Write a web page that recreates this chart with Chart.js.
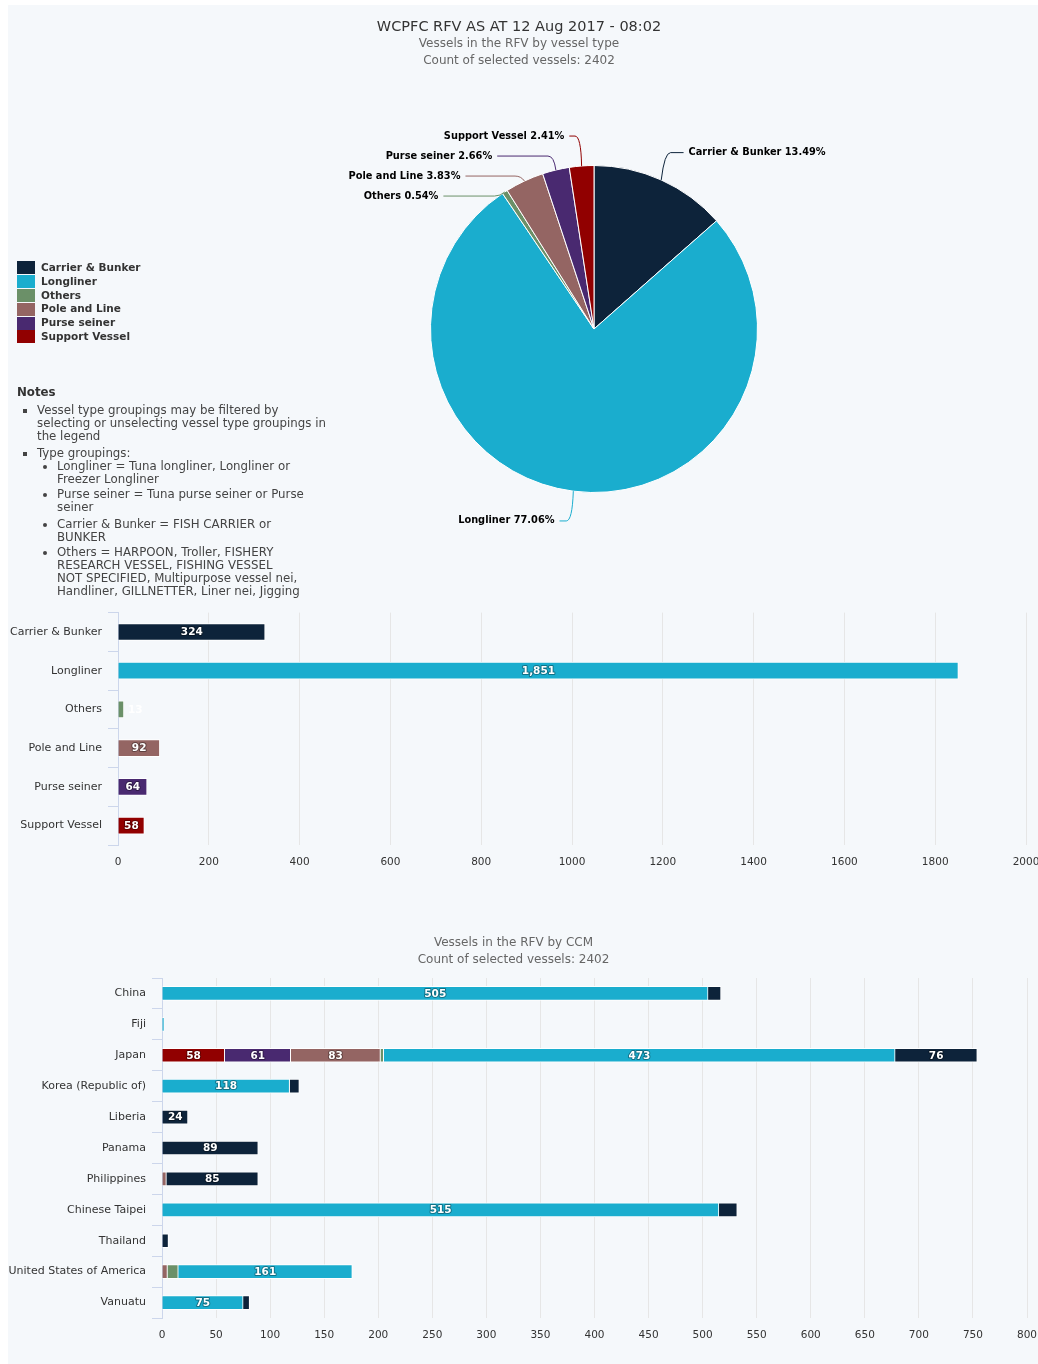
<!DOCTYPE html>
<html>
<head>
<meta charset="utf-8">
<title>WCPFC RFV</title>
<script src="https://cdn.jsdelivr.net/npm/chart.js@4.4.0/dist/chart.umd.min.js"></script>
<style>
  body { margin: 0; background: #ffffff; overflow: hidden; }
  #page { position: relative; width: 1038px; height: 1364px; font-family: "DejaVu Sans", sans-serif; }
  #panel { position: absolute; left: 8px; top: 5px; right: 0; bottom: 0; background: #f5f8fb; }
  canvas { position: absolute; left: 0; }
  #pieChart { top: 0; }
  #typeChart { top: 600px; }
  #ccmChart { top: 900px; }
  #pieLegend { position: absolute; left: 17px; top: 261px; font: bold 10.5px "DejaVu Sans", sans-serif; color: #333; }
  .legend-item { height: 13.8px; line-height: 13.8px; display: flex; align-items: center; white-space: nowrap; }
  .swatch { display: inline-block; width: 18px; height: 13px; margin-right: 6px; }
  #notes { position: absolute; left: 17px; top: 385.5px; width: 330px; font: 11.8px/13px "DejaVu Sans", sans-serif; color: #444; white-space: nowrap; }
  #notes .notes-title { font-weight: bold; color: #333; }
  #notes ul { margin: 0; padding-left: 20px; }
  #notes ul.lvl1 { list-style: square; margin-top: 5px; }
  #notes ul.lvl2 { list-style: disc; }
  #notes ul.lvl1 > li { margin-bottom: 4px; }
  #notes ul.lvl2 > li { margin-top: 2px; }
  #notes ul.lvl2 > li:first-child { margin-top: 0; }
  #notes ul.lvl2 > li.wide { margin-top: 4px; }
</style>
</head>
<body>
<div id="page">
  <div id="panel"></div>
  <canvas id="pieChart" width="1038" height="600"></canvas>
  <div id="pieLegend"></div>
  <div id="notes">
    <div class="notes-title">Notes</div>
    <ul class="lvl1">
      <li>Vessel type groupings may be filtered by<br>selecting or unselecting vessel type groupings in<br>the legend</li>
      <li>Type groupings:
        <ul class="lvl2">
          <li>Longliner = Tuna longliner, Longliner or<br>Freezer Longliner</li>
          <li>Purse seiner = Tuna purse seiner or Purse<br>seiner</li>
          <li class="wide">Carrier &amp; Bunker = FISH CARRIER or<br>BUNKER</li>
          <li>Others = HARPOON, Troller, FISHERY<br>RESEARCH VESSEL, FISHING VESSEL<br>NOT SPECIFIED, Multipurpose vessel nei,<br>Handliner, GILLNETTER, Liner nei, Jigging</li>
        </ul>
      </li>
    </ul>
  </div>
  <canvas id="typeChart" width="1038" height="275"></canvas>
  <canvas id="ccmChart" width="1038" height="464"></canvas>
</div>

<script>
// vessel types (pie + first bar chart)
const typeNames = ['Carrier & Bunker', 'Longliner', 'Others', 'Pole and Line', 'Purse seiner', 'Support Vessel'];
const typeCounts = [324, 1851, 13, 92, 64, 58];
const typeColors = ['#0d233a', '#1aadce', '#6b9068', '#946563', '#492970', '#910000'];

// CCM stacked chart
const ccmNames = ['China', 'Fiji', 'Japan', 'Korea (Republic of)', 'Liberia', 'Panama', 'Philippines',
  'Chinese Taipei', 'Thailand', 'United States of America', 'Vanuatu'];
const ccmCarrier     = [12, null, 76, 9, 24, 89, 85, 17, 6, null, 6];
const ccmLongliner   = [505, 2, 473, 118, null, null, null, 515, null, 161, 75];
const ccmOthers      = [null, null, 3, null, null, null, null, null, null, 10, null];
const ccmPoleLine    = [null, null, 83, null, null, null, 4, null, null, 5, null];
const ccmPurseSeiner = [null, null, 61, null, null, null, null, null, null, null, null];
const ccmSupport     = [null, null, 58, null, null, null, null, null, null, null, null];

// axis ranges
const typeAxisMax = 2000;
const typeAxisStep = 200;
const ccmAxisMax = 800;
const ccmAxisStep = 50;

const chartTitle = 'WCPFC RFV AS AT 12 Aug 2017 - 08:02';
const pieSubtitle = 'Vessels in the RFV by vessel type';
const ccmSubtitle = 'Vessels in the RFV by CCM';
const totalVessels = typeCounts.reduce((a, b) => a + b, 0);
const countLine = 'Count of selected vessels: ' + totalVessels;

Chart.defaults.font.family = '"DejaVu Sans", sans-serif';

// html legend for the pie
const legendBox = document.getElementById('pieLegend');
typeNames.forEach((name, i) => {
    const item = document.createElement('div');
    item.className = 'legend-item';
    const sw = document.createElement('span');
    sw.className = 'swatch';
    sw.style.background = typeColors[i];
    item.appendChild(sw);
    item.appendChild(document.createTextNode(name));
    legendBox.appendChild(item);
});

// move the pie right of the legend/notes column, title stays centred
const pieShiftX = 75;
const pieShift = {
    id: 'pieShift',
    afterLayout(chart) {
        chart.chartArea.left += pieShiftX;
        chart.chartArea.right += pieShiftX;
    }
};

// highcharts style labels outside the slices, with connectors
const pieOutsideLabels = {
    id: 'pieOutsideLabels',
    afterDatasetsDraw(chart) {
        const ds = chart.data.datasets[0];
        const meta = chart.getDatasetMeta(0);
        const total = ds.data.reduce((a, b) => a + b, 0);
        const distance = 30;
        const gap = 20;

        const items = meta.data.map((arc, i) => {
            const p = arc.getProps(['x', 'y', 'startAngle', 'endAngle', 'outerRadius'], true);
            const mid = (p.startAngle + p.endAngle) / 2;
            const cos = Math.cos(mid);
            const sin = Math.sin(mid);
            return {
                cx: p.x, cy: p.y, r: p.outerRadius, cos: cos,
                side: cos < 0 ? -1 : 1,
                edgeX: p.x + cos * p.outerRadius,
                edgeY: p.y + sin * p.outerRadius,
                y: p.y + sin * (p.outerRadius + distance),
                color: ds.backgroundColor[i],
                text: chart.data.labels[i] + ' ' + (ds.data[i] / total * 100).toFixed(2) + '%'
            };
        });

        [-1, 1].forEach(side => {
            const list = items.filter(it => it.side === side).sort((a, b) => a.y - b.y);
            for (let k = 1; k < list.length; k++) {
                if (list[k].y - list[k - 1].y < gap) list[k].y = list[k - 1].y + gap;
            }
        });

        const ctx = chart.ctx;
        ctx.save();
        ctx.font = 'bold 9.8px "DejaVu Sans"';
        ctx.textBaseline = 'middle';
        ctx.lineWidth = 1;
        items.forEach(it => {
            const R = it.r + distance;
            const dy = it.y - it.cy;
            const lx = Math.abs(dy) < R ? it.cx + it.side * Math.sqrt(R * R - dy * dy) : it.cx + it.cos * R;
            const bx = it.edgeX + it.cos * 8;
            const endX = it.side < 0 ? Math.min(lx - 10, bx - 6) : Math.max(lx + 10, bx + 6);

            ctx.strokeStyle = it.color;
            ctx.beginPath();
            ctx.moveTo(it.edgeX, it.edgeY);
            ctx.quadraticCurveTo(bx, it.y, bx + it.side * 6, it.y);
            ctx.lineTo(endX, it.y);
            ctx.stroke();

            ctx.fillStyle = '#000';
            ctx.textAlign = it.side < 0 ? 'right' : 'left';
            ctx.fillText(it.text, endX + it.side * 5, it.y);
        });
        ctx.restore();
    }
};

// values written inside the bars
const barValueLabels = {
    id: 'barValueLabels',
    afterDatasetsDraw(chart, args, opts) {
        const ctx = chart.ctx;
        ctx.save();
        ctx.font = 'bold 10.5px "DejaVu Sans"';
        ctx.textAlign = 'center';
        ctx.textBaseline = 'middle';
        ctx.lineJoin = 'round';
        chart.data.datasets.forEach((ds, di) => {
            const meta = chart.getDatasetMeta(di);
            meta.data.forEach((bar, i) => {
                const v = ds.data[i];
                if (!v) return;
                const p = bar.getProps(['x', 'y', 'base'], true);
                const text = v.toLocaleString('en-US');
                const w = ctx.measureText(text).width;
                const len = Math.abs(p.x - p.base);
                if (len >= w + 4) {
                    const x = (p.x + p.base) / 2;
                    ctx.lineWidth = 2;
                    ctx.strokeStyle = 'rgba(0,0,0,0.35)';
                    ctx.strokeText(text, x, p.y + 0.5);
                    ctx.fillStyle = '#ffffff';
                    ctx.fillText(text, x, p.y + 0.5);
                } else if (!opts.hideSmall) {
                    ctx.fillStyle = '#ffffff';
                    ctx.fillText(text, p.x + 4 + w / 2, p.y + 0.5);
                }
            });
        });
        ctx.restore();
    }
};

// value axis: fixed height, and let the last tick label run to the edge
function fitValueAxis(scale) {
    scale.height = 30;
    scale.paddingLeft = 0;
    scale.paddingRight = 0;
}

new Chart(document.getElementById('pieChart'), {
    type: 'pie',
    data: {
        labels: typeNames,
        datasets: [{
            data: typeCounts,
            backgroundColor: typeColors,
            borderColor: '#ffffff',
            borderWidth: 1
        }]
    },
    options: {
        responsive: false,
        animation: false,
        layout: { padding: { top: 0, right: 0, bottom: 107, left: 0 } },
        plugins: {
            legend: { display: false },
            tooltip: { enabled: false },
            title: {
                display: true,
                text: chartTitle,
                color: '#333',
                font: { size: 14.5, weight: 'normal' },
                padding: { top: 18.3, bottom: 0 }
            },
            subtitle: {
                display: true,
                text: [pieSubtitle, countLine],
                color: '#666',
                font: { size: 12, lineHeight: 1.4 },
                padding: { top: 0, bottom: 95.7 }
            }
        }
    },
    plugins: [pieShift, pieOutsideLabels]
});

new Chart(document.getElementById('typeChart'), {
    type: 'bar',
    data: {
        labels: typeNames,
        datasets: [{
            data: typeCounts,
            backgroundColor: typeColors,
            borderColor: '#ffffff',
            borderWidth: 1,
            barThickness: 17
        }]
    },
    options: {
        indexAxis: 'y',
        responsive: false,
        animation: false,
        layout: { autoPadding: false, padding: { top: 8, right: 12, bottom: 0, left: 0 } },
        scales: {
            x: {
                min: 0,
                max: typeAxisMax,
                ticks: { stepSize: typeAxisStep, color: '#333', font: { size: 10.5 }, padding: 11, callback: v => v },
                grid: { color: '#e6e6e6', drawTicks: false },
                border: { display: false },
                afterFit: fitValueAxis
            },
            y: {
                ticks: { color: '#333', font: { size: 11 }, padding: 6 },
                grid: { drawOnChartArea: false, color: '#ccd6eb', tickLength: 10, offset: true },
                border: { color: '#ccd6eb' },
                afterFit: s => { s.width = 118; }
            }
        },
        plugins: {
            legend: { display: false },
            tooltip: { enabled: false },
            barValueLabels: { hideSmall: false }
        }
    },
    plugins: [barValueLabels]
});

const ccmSeries = [ccmCarrier, ccmLongliner, ccmOthers, ccmPoleLine, ccmPurseSeiner, ccmSupport];
// first series ends up at the far end of the stack, as in the original
const ccmDatasets = typeNames.map((name, k) => ({
    label: name,
    data: ccmSeries[k],
    backgroundColor: typeColors[k],
    borderColor: '#ffffff',
    borderWidth: 1,
    barThickness: 14
})).reverse();

new Chart(document.getElementById('ccmChart'), {
    type: 'bar',
    data: { labels: ccmNames, datasets: ccmDatasets },
    options: {
        indexAxis: 'y',
        responsive: false,
        animation: false,
        layout: { autoPadding: false, padding: { top: 0, right: 11, bottom: 16, left: 0 } },
        scales: {
            x: {
                stacked: true,
                min: 0,
                max: ccmAxisMax,
                ticks: { stepSize: ccmAxisStep, color: '#333', font: { size: 10.5 }, padding: 11, callback: v => v },
                grid: { color: '#e6e6e6', drawTicks: false },
                border: { display: false },
                afterFit: fitValueAxis
            },
            y: {
                stacked: true,
                ticks: { color: '#333', font: { size: 11 }, padding: 6 },
                grid: { drawOnChartArea: false, color: '#ccd6eb', tickLength: 10, offset: true },
                border: { color: '#ccd6eb' },
                afterFit: s => { s.width = 162; }
            }
        },
        plugins: {
            legend: { display: false },
            tooltip: { enabled: false },
            title: {
                display: true,
                text: [ccmSubtitle, countLine],
                color: '#666',
                font: { size: 12, weight: 'normal', lineHeight: 1.4 },
                padding: { top: 34.6, bottom: 9.8 }
            },
            barValueLabels: { hideSmall: true }
        }
    },
    plugins: [barValueLabels]
});
</script>
</body>
</html>
